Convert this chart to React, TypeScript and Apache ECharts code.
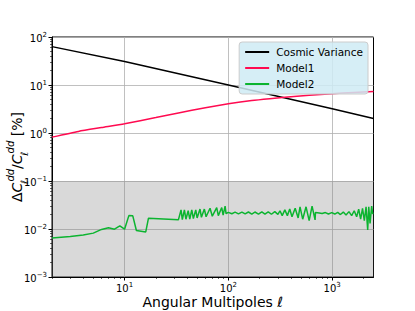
import React, { useEffect, useRef } from "react";
import * as echarts from "echarts";

// ---- data ----
const cosmicVariance: [number, number][] = [
  [2, 63], [10, 31], [100, 10], [1000, 3.2], [2500, 2.0],
];

const model1: [number, number][] = [
  [2, 0.82], [3.6, 1.08], [6, 1.3], [10, 1.56], [20, 2.1], [33, 2.62], [60, 3.35], [100, 4.05],
  [168, 4.75], [250, 5.2], [350, 5.55], [600, 6.1], [1000, 6.6], [1600, 7.0], [2500, 7.3],
];

const model2: [number, number][] = [
  [2, 0.0065], [3, 0.0070], [4, 0.0075], [5, 0.0082], [6, 0.0098], [7, 0.0106],
  [8, 0.0099], [9, 0.0116], [10, 0.0099], [11, 0.019], [12, 0.0188], [13, 0.0093],
  [16, 0.0087], [17, 0.0168], [33, 0.0155],
  [35, 0.025], [36, 0.0157], [37.7, 0.025], [39, 0.016], [41, 0.024], [42.5, 0.016],
  [44.4, 0.025], [46, 0.0165], [48.5, 0.025], [50, 0.017], [53.3, 0.026], [55, 0.0175],
  [58.7, 0.026], [61, 0.018], [66.6, 0.027], [70, 0.0185], [77.2, 0.028], [80, 0.019],
  [86.3, 0.028], [89, 0.0195], [93, 0.030], [95, 0.021],
  [100, 0.0222], [108, 0.0208], [116, 0.0224], [125, 0.0207], [135, 0.0225], [145, 0.0206],
  [156, 0.0226], [168, 0.0205], [180, 0.0226], [195, 0.0205], [210, 0.0228], [225, 0.0204],
  [242, 0.0228], [260, 0.0203], [280, 0.023], [300, 0.0202],
  [314, 0.024], [330, 0.019], [350, 0.025], [370, 0.019], [390, 0.026], [410, 0.018],
  [440, 0.027], [470, 0.017], [490, 0.029], [520, 0.016], [560, 0.029], [600, 0.015],
  [640, 0.030], [684, 0.0155], [690, 0.022],
  [750, 0.0215], [800, 0.021], [860, 0.022], [920, 0.0205], [990, 0.022], [1060, 0.0205],
  [1130, 0.0222], [1200, 0.020], [1280, 0.0225], [1360, 0.0195], [1450, 0.023], [1540, 0.019],
  [1630, 0.024], [1720, 0.018],
  [1800, 0.026], [1880, 0.016], [1960, 0.027], [2040, 0.015], [2120, 0.029], [2198, 0.0096],
  [2250, 0.029], [2317, 0.013], [2400, 0.030], [2450, 0.021], [2500, 0.021],
];

const shadedBand = [0.001, 0.1];

const xMajorTicks = [10, 100, 1000];
const xMinorTicks = [2, 3, 4, 5, 6, 7, 8, 9, 20, 30, 40, 50, 60, 70, 80, 90,
  200, 300, 400, 500, 600, 700, 800, 900, 2000];
const yMajorTicks = [0.001, 0.01, 0.1, 1, 10, 100];
const yMinorTicks = [0.002, 0.003, 0.004, 0.005, 0.006, 0.007, 0.008, 0.009,
  0.02, 0.03, 0.04, 0.05, 0.06, 0.07, 0.08, 0.09,
  0.2, 0.3, 0.4, 0.5, 0.6, 0.7, 0.8, 0.9,
  2, 3, 4, 5, 6, 7, 8, 9, 20, 30, 40, 50, 60, 70, 80, 90];

const FONT = "DejaVu Sans";

const expLabel = (v: number) => {
  const e = Math.round(Math.log10(v));
  const s = e < 0 ? "\u2212" + Math.abs(e) : String(e);
  return "{b|10}{sup|" + s + "}";
};

const tickRich = {
  b: { fontFamily: FONT, fontSize: 10, color: "#000", lineHeight: 12, verticalAlign: "bottom" },
  sup: { fontFamily: FONT, fontSize: 7, color: "#000", lineHeight: 12, verticalAlign: "top", padding: [0, 0, 5, 0] },
};

export default function App() {
  const ref = useRef<HTMLDivElement>(null);
  useEffect(() => {
    if (!ref.current) return;
    const chart = echarts.init(ref.current, null, { renderer: "svg" });
    const grid = { left: 52, right: 41.5, top: 37, bottom: 34 };
    chart.setOption({
      animation: false,
      backgroundColor: "#ffffff",
      grid: {
        ...grid, outerBoundsMode: "none", containLabel: false,
        show: true, borderColor: "#000", borderWidth: 1, backgroundColor: "transparent",
      },
      legend: {
        right: 47,
        top: 42,
        orient: "vertical",
        icon: "rect",
        itemWidth: 24,
        itemHeight: 2,
        itemGap: 4,
        padding: [4, 5, 4, 6],
        backgroundColor: "rgba(207,235,245,0.85)",
        borderColor: "#cccccc",
        borderWidth: 1,
        borderRadius: 3,
        textStyle: { fontFamily: FONT, fontSize: 10.5, color: "#000", lineHeight: 12, padding: [0, 0, 0, 2] },
        data: ["Cosmic Variance", "Model1", "Model2"],
      },
      xAxis: [
        {
          type: "log", logBase: 10, min: 2, max: 2500,
          axisLine: { show: true, lineStyle: { color: "#000", width: 1 } },
          axisTick: { show: true, length: 3.5, customValues: xMajorTicks, lineStyle: { color: "#000", width: 1 } },
          axisLabel: { customValues: xMajorTicks, formatter: expLabel, rich: tickRich, margin: 4 },
          splitLine: { show: true, lineStyle: { color: "#b0b0b0", width: 0.8 } },
          name: "Angular Multipoles \u2113",
          nameLocation: "middle",
          nameGap: 17,
          nameMoveOverlap: false,
          nameTextStyle: { fontFamily: FONT, fontSize: 14, color: "#000", lineHeight: 15 },
        },
        {
          type: "log", logBase: 10, min: 2, max: 2500, position: "bottom",
          axisLine: { show: false },
          axisTick: { show: true, length: 2, customValues: xMinorTicks, lineStyle: { color: "#000", width: 0.6 } },
          axisLabel: { show: false },
          splitLine: { show: false },
        },
      ],
      yAxis: [
        {
          type: "log", logBase: 10, min: 0.001, max: 100,
          axisLine: { show: true, lineStyle: { color: "#000", width: 1 } },
          axisTick: { show: true, length: 3.5, customValues: yMajorTicks, lineStyle: { color: "#000", width: 1 } },
          axisLabel: { customValues: yMajorTicks, formatter: expLabel, rich: tickRich, margin: 5 },
          splitLine: { show: true, lineStyle: { color: "#b0b0b0", width: 0.8 } },
        },
        {
          type: "log", logBase: 10, min: 0.001, max: 100, position: "left",
          axisLine: { show: false },
          axisTick: { show: true, length: 2, customValues: yMinorTicks, lineStyle: { color: "#000", width: 0.6 } },
          axisLabel: { show: false },
          splitLine: { show: false },
        },
      ],
      graphic: [
        {
          type: "text",
          x: 17,
          y: 157,
          rotation: Math.PI / 2,
          style: {
            text: "{m|\u0394}{i|C}{sb|\u2113}{sp|dd}{m|/}{i|C}{sb|\u2113}{sp|dd}{m| [%]}",
            align: "center",
            verticalAlign: "middle",
            rich: {
              m: { fontFamily: FONT, fontSize: 14, color: "#000", lineHeight: 24, verticalAlign: "middle" },
              i: { fontFamily: FONT, fontSize: 14, fontStyle: "italic", color: "#000", lineHeight: 24, verticalAlign: "middle" },
              sp: { fontFamily: FONT, fontSize: 10, fontStyle: "italic", color: "#000", lineHeight: 24, verticalAlign: "top", padding: [0, 0, 10, 0] },
              sb: { fontFamily: FONT, fontSize: 10, fontStyle: "italic", color: "#000", lineHeight: 24, verticalAlign: "bottom", padding: [6, 0, 0, 0], width: 1 },
            },
          },
        },
      ],
      series: [
        {
          name: "Cosmic Variance",
          type: "line",
          xAxisIndex: 0, yAxisIndex: 0,
          data: cosmicVariance,
          showSymbol: false,
          color: "#000000",
          lineStyle: { width: 1.5, color: "#000000" },
          z: 3,
          markArea: {
            silent: true,
            itemStyle: { color: "rgba(128,128,128,0.3)" },
            data: [[{ yAxis: shadedBand[0] }, { yAxis: shadedBand[1] }]],
          },
        },
        {
          name: "Model1",
          type: "line",
          xAxisIndex: 0, yAxisIndex: 0,
          data: model1,
          showSymbol: false,
          smooth: 0.2,
          color: "#ff0a50",
          lineStyle: { width: 1.5, color: "#ff0a50" },
          z: 3,
        },
        {
          name: "Model2",
          type: "line",
          xAxisIndex: 0, yAxisIndex: 0,
          data: model2,
          showSymbol: false,
          color: "#0cb430",
          lineStyle: { width: 1.5, color: "#0cb430" },
          z: 3,
        },
      ],
    });
    return () => chart.dispose();
  }, []);
  return <div ref={ref} style={{ position: "fixed", left: 0, top: 0, width: 415, height: 311 }} />;
}
